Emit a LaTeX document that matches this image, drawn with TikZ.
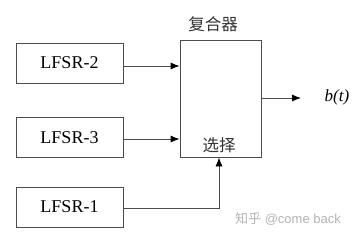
\documentclass[tikz,border=0pt]{standalone}
\usepackage{fontspec}
\setmainfont{Liberation Serif}
\newfontfamily\cjk{Noto Sans CJK SC}
\newfontfamily\wm{Liberation Sans}
\usetikzlibrary{arrows.meta}
\begin{document}
\begin{tikzpicture}[x=1pt,y=-1pt,
  lfsr/.style={draw=black!70,line width=0.8pt,minimum width=107pt,minimum height=40pt,inner sep=0pt,font=\fontsize{18}{18}\selectfont},
  mux/.style={draw=black!70,line width=0.8pt,minimum width=81pt,minimum height=117pt,inner sep=0pt},
  conn/.style={draw=black!70,line width=0.8pt,-{Latex[length=9pt,width=7pt,black]}},
  lbl/.style={font=\cjk\fontsize{16.5}{16.5}\selectfont,text=black!80}]
\useasboundingbox (0,0) rectangle (354,239);
\node[lfsr] (l2) at (69.5,63) {LFSR-2};
\node[lfsr] (l3) at (69.5,137.5) {LFSR-3};
\node[lfsr] (l1) at (69.5,207) {LFSR-1};
\node[mux] (m) at (220.5,98.5) {};
\node[lbl] (t) at (213,24) {复合器};
\node[lbl] (s) at (219,145) {选择};
\node[font=\itshape\fontsize{17}{17}\selectfont] (bt) at (337,97) {b(t)};
\coordinate (o) at (301,98);
\coordinate (c1) at (219,208);
\draw[conn] (l2.east |- 0,66) -- (m.west |- 0,66);
\draw[conn] (l3.east |- 0,139) -- (m.west |- 0,139);
\draw[conn] (l1.east |- c1) -- (c1) -- (c1 |- m.south);
\draw[conn] (m.east |- o) -- (o);
\node[font=\wm\fontsize{13}{13}\selectfont,text=black!30] (w) at (288,219) {{\cjk 知乎} @come back};
\end{tikzpicture}
\end{document}
